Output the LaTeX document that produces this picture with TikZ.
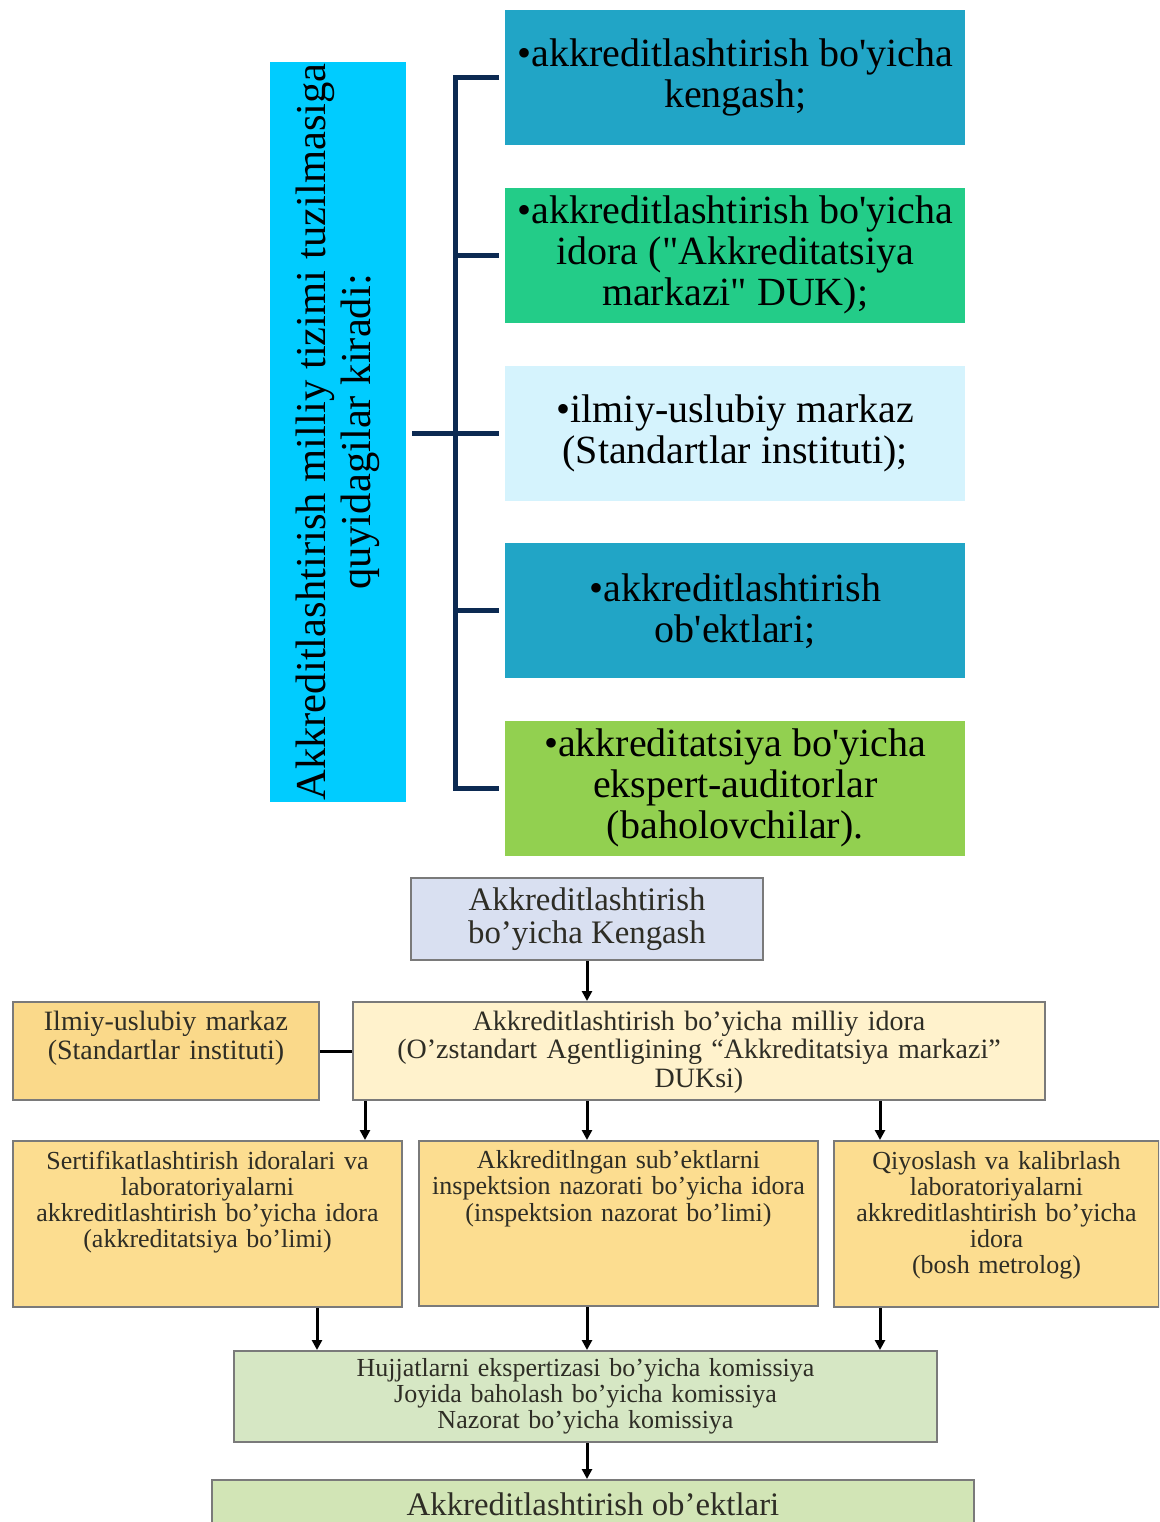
\documentclass[tikz,border=0pt]{standalone}
\usepackage{fontspec}
\setmainfont[Ligatures=TeXOff]{Liberation Serif}
\usetikzlibrary{positioning}
\usetikzlibrary{arrows.meta}
\tikzset{>=latex}

\definecolor{leadcyan}{HTML}{00CCFF}
\definecolor{tealbox}{HTML}{21A5C6}
\definecolor{mintbox}{HTML}{23CC88}
\definecolor{palebox}{HTML}{D5F3FD}
\definecolor{limebox}{HTML}{92D050}
\definecolor{navyline}{HTML}{0C2A52}
\definecolor{lilacbox}{HTML}{D9E0F1}
\definecolor{goldbox}{HTML}{FAD98A}
\definecolor{creambox}{HTML}{FFF2CC}
\definecolor{sandbox}{HTML}{FCDD90}
\definecolor{sagebox}{HTML}{D6E7C4}
\definecolor{mossbox}{HTML}{D2E5B6}
\definecolor{framegray}{HTML}{7A7A7A}
\definecolor{inkgray}{HTML}{2E2D25}

\tikzset{
  item/.style={minimum width=460pt, minimum height=135pt, inner sep=0pt,
    align=center, font=\fontsize{40}{41}\selectfont},
  bracket/.style={navyline, line width=5pt},
  orgbox/.style={draw=framegray, line width=2pt, inner sep=0pt, align=center,
    text=inkgray, anchor=north west},
  flowarrow/.style={-{Triangle[length=10pt,width=10pt]}, line width=3pt},
}

\begin{document}
\begin{tikzpicture}[x=1pt, y=-1pt]
  \useasboundingbox (0,0) rectangle (1159,1522);
  \clip (0,0) rectangle (1159,1522);

  % --- 1. Upper part: members of the structure ---
  \node[item, fill=tealbox, anchor=north west] (b1) at (505,10)
    {•akkreditlashtirish bo'yicha\\kengash;};
  \node[item, fill=mintbox, below=42pt of b1] (b2)
    {•akkreditlashtirish bo'yicha\\idora ("Akkreditatsiya\\markazi" DUK);};
  \node[item, fill=palebox, below=43pt of b2] (b3)
    {•ilmiy-uslubiy markaz\\(Standartlar instituti);};
  \node[item, fill=tealbox, below=42pt of b3] (b4)
    {•akkreditlashtirish\\ob'ektlari;};
  \node[item, fill=limebox, below=42pt of b4] (b5)
    {•akkreditatsiya bo'yicha\\ekspert-auditorlar\\(baholovchilar).};

  % Rotated heading on the left
  \node[fill=leadcyan, rotate=90, minimum width=740pt, minimum height=136pt,
    inner sep=0pt, align=center, font=\fontsize{42.6}{45}\selectfont] (lead) at (338,432)
    {Akkreditlashtirish milliy tizimi tuzilmasiga\\quyidagilar kiradi:};

  % --- 2. The bracket ---
  \coordinate (spine) at (455,0);
  \draw[bracket] ([xshift=-6pt]b1.west) -| (spine |- b5.west) -- ([xshift=-6pt]b5.west);
  \foreach \b in {b2,b4}
    \draw[bracket] (spine |- \b.west) -- ([xshift=-6pt]\b.west);
  \draw[bracket] ([xshift=6pt]lead.south |- b3.west) -- ([xshift=-6pt]b3.west);

  % --- 3. Lower part: organisation chart ---
  \node[orgbox, fill=lilacbox, minimum width=352pt, minimum height=82pt,
    font=\fontsize{32.8}{33}\selectfont] (kengash) at (410,877)
    {Akkreditlashtirish\\bo’yicha Kengash};

  \node[orgbox, fill=goldbox, text width=306pt, text height=28pt, text depth=70pt,
    font=\fontsize{28}{29}\selectfont] (ilmiy) at (12,1001)
    {Ilmiy-uslubiy markaz\\(Standartlar instituti)};
  \node[orgbox, fill=creambox, text width=692pt, text height=28pt, text depth=70pt,
    font=\fontsize{28}{28.5}\selectfont] (milliy) at (352,1001)
    {Akkreditlashtirish bo’yicha milliy idora\\(O’zstandart Agentligining “Akkreditatsiya markazi”\\DUKsi)};

  \node[orgbox, fill=sandbox, text width=389pt, text height=28pt, text depth=138pt,
    font=\fontsize{26}{26}\selectfont] (sertif) at (12,1140)
    {Sertifikatlashtirish idoralari va\\laboratoriyalarni\\akkreditlashtirish bo’yicha idora\\(akkreditatsiya bo’limi)};
  \node[orgbox, fill=sandbox, text width=399pt, text height=27pt, text depth=138pt,
    font=\fontsize{26}{26.5}\selectfont] (inspekt) at (418,1140)
    {Akkreditlngan sub’ektlarni\\inspektsion nazorati bo’yicha idora\\(inspektsion nazorat bo’limi)};
  \node[orgbox, fill=sandbox, text width=325pt, text height=28pt, text depth=138pt,
    font=\fontsize{26}{26}\selectfont] (qiyos) at (833,1140)
    {Qiyoslash va kalibrlash\\laboratoriyalarni\\akkreditlashtirish bo’yicha\\idora\\(bosh metrolog)};

  \node[orgbox, fill=sagebox, text width=703pt, minimum height=91pt,
    font=\fontsize{26}{26}\selectfont] (komis) at (233,1350)
    {Hujjatlarni ekspertizasi bo’yicha komissiya\\Joyida baholash bo’yicha komissiya\\Nazorat bo’yicha komissiya};

  \node[orgbox, fill=mossbox, minimum width=762pt, minimum height=48pt,
    font=\fontsize{32.8}{33}\selectfont] (objects) at (211,1479)
    {Akkreditlashtirish ob’ektlari};

  % --- 4. Connectors ---
  \draw[flowarrow] (kengash.south) -- (kengash.south |- milliy.north);
  \draw[line width=3pt] (ilmiy.east) -- (milliy.west);
  \foreach \x/\t in {365/sertif, 587/inspekt, 880/qiyos}
    \draw[flowarrow] (\x,0 |- milliy.south) -- (\x,0 |- \t.north);
  \foreach \x/\s in {317/sertif, 587/inspekt, 880/qiyos}
    \draw[flowarrow] (\x,0 |- \s.south) -- (\x,0 |- komis.north);
  \draw[flowarrow] (587,0 |- komis.south) -- (587,0 |- objects.north);
\end{tikzpicture}
\end{document}
